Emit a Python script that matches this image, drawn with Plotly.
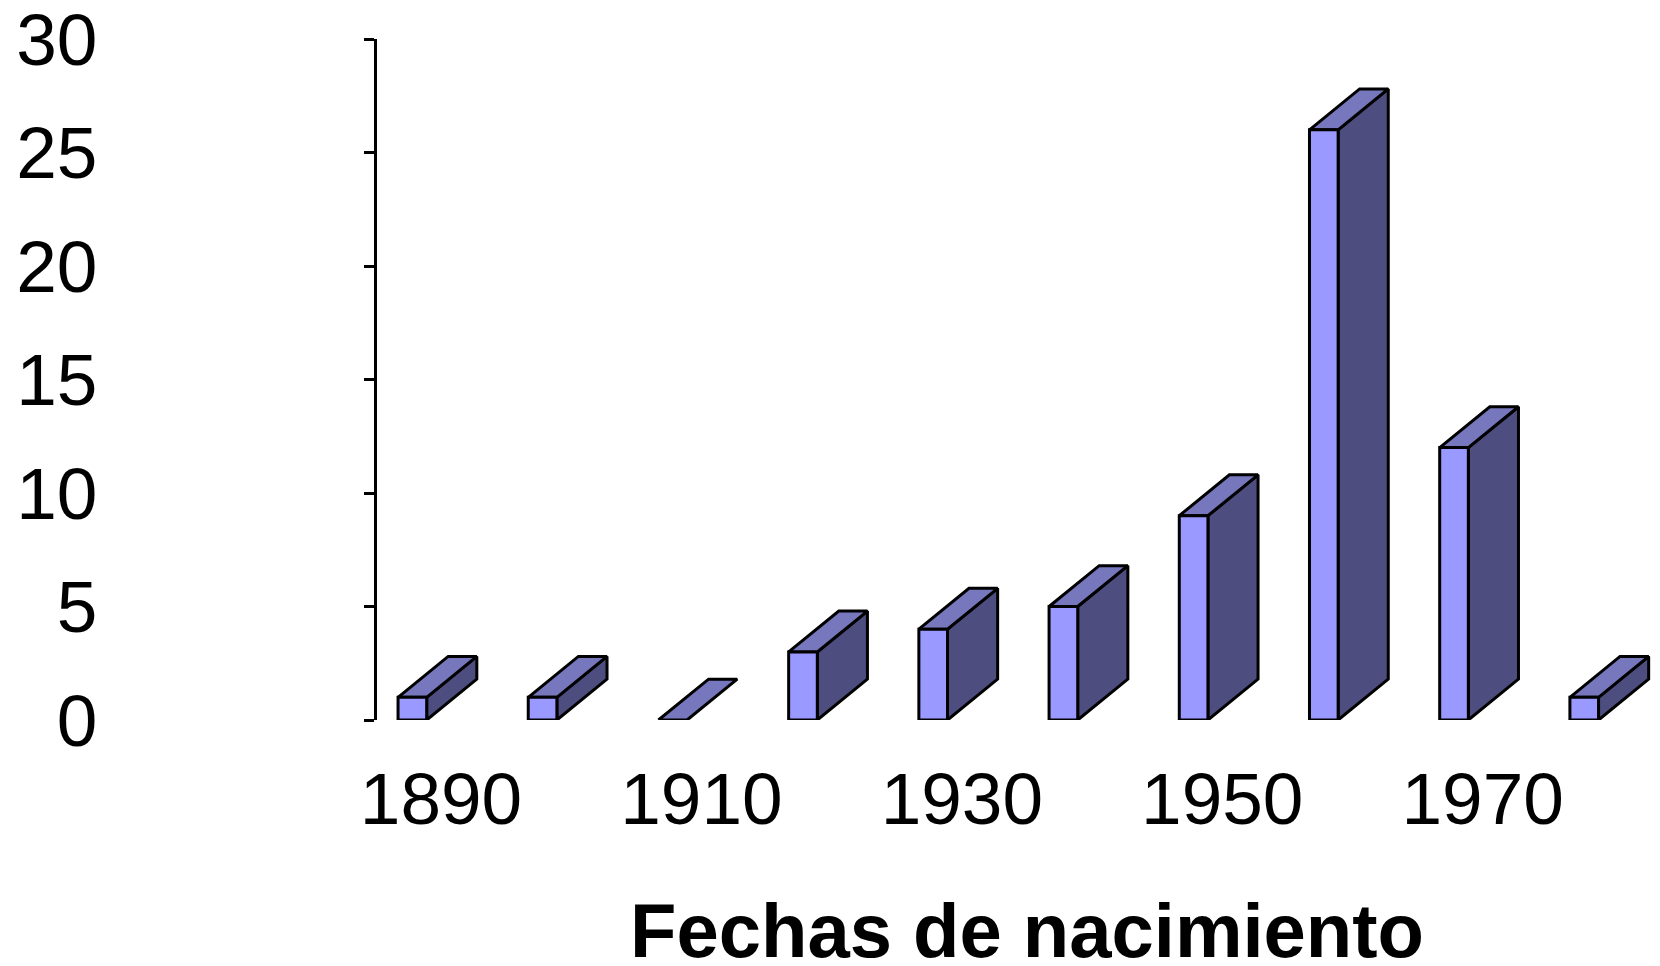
import plotly.graph_objects as go

decades = [1890, 1900, 1910, 1920, 1930, 1940, 1950, 1960, 1970, 1980]
counts = [1, 1, 0, 3, 4, 5, 9, 26, 12, 1]
x_tick_labels = ["1890", "1910", "1930", "1950", "1970"]
y_ticks = [0, 5, 10, 15, 20, 25, 30]
x_title = "Fechas de nacimiento"

FRONT = "#9999FF"
TOP = "#7777BD"
SIDE = "#4D4D80"
BAR_OFFSET = 0.33
BAR_WIDTH = 0.22
DEPTH_X = 0.385
DEPTH_Y = 1.8
FONT = "Liberation Sans, Arial, sans-serif"

front_x, front_y, top_x, top_y, side_x, side_y = [], [], [], [], [], []
for i, v in enumerate(counts):
    x0 = i - BAR_OFFSET
    x1 = x0 + BAR_WIDTH
    top_x += [x0, x1, x1 + DEPTH_X, x0 + DEPTH_X, x0, None]
    top_y += [v, v, v + DEPTH_Y, v + DEPTH_Y, v, None]
    if v > 0:
        front_x += [x0, x1, x1, x0, x0, None]
        front_y += [0, 0, v, v, 0, None]
        side_x += [x1, x1 + DEPTH_X, x1 + DEPTH_X, x1, x1, None]
        side_y += [0, DEPTH_Y, v + DEPTH_Y, v, 0, None]

fig = go.Figure()
for xs, ys, colour in [(side_x, side_y, SIDE), (top_x, top_y, TOP), (front_x, front_y, FRONT)]:
    fig.add_trace(go.Scatter(
        x=xs, y=ys, mode="lines", fill="toself", fillcolor=colour,
        line=dict(color="black", width=3), hoverinfo="skip",
        showlegend=False, cliponaxis=False,
    ))

fig.update_layout(
    width=1660, height=966, autosize=False,
    margin=dict(l=377, r=0, t=39, b=246),
    paper_bgcolor="white", plot_bgcolor="white",
    font=dict(family=FONT, size=73, color="black"),
    xaxis=dict(
        range=[-0.4916, 9.362], showgrid=False, zeroline=False, showline=False,
        tickmode="array", tickvals=[0, 2, 4, 6, 8], ticktext=x_tick_labels,
        ticks="", ticklabelstandoff=30, ticklabeloverflow="allow", automargin=False,
    ),
    yaxis=dict(
        range=[0, 30], showgrid=False, zeroline=False, showline=True,
        linecolor="black", linewidth=3, ticks="outside", ticklen=10,
        tickwidth=3, tickcolor="black", tickmode="array", tickvals=y_ticks,
        ticklabelstandoff=252, ticklabeloverflow="allow", automargin=False,
    ),
    annotations=[dict(
        x=4.5, xref="x", y=-0.309, yref="paper", text=f"<b>{x_title}</b>",
        showarrow=False, xanchor="center", yanchor="middle",
        font=dict(family=FONT, size=76, color="black"),
    )],
)

fig.write_html("out.html", config={"displayModeBar": False},
               post_script="document.body.style.margin='0';")
